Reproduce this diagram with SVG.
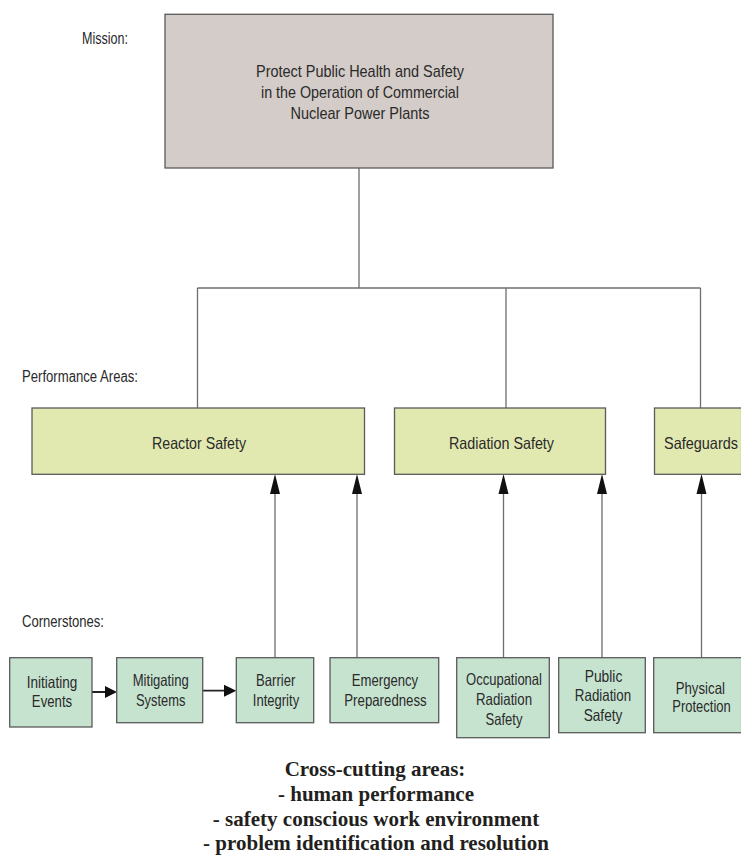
<svg xmlns="http://www.w3.org/2000/svg" width="741" height="855" viewBox="0 0 741 855">
<style>
.lbl{font-family:"Liberation Sans",Arial,sans-serif;font-size:16px;fill:#2a2a2a;}
.t{font-family:"Liberation Sans",Arial,sans-serif;font-size:16.5px;fill:#2a2a2a;text-anchor:middle;}
.m{font-family:"Liberation Sans",Arial,sans-serif;font-size:17px;fill:#2a2a2a;text-anchor:middle;}
.x{font-family:"Liberation Serif","Times New Roman",serif;font-size:21px;font-weight:bold;fill:#231f20;text-anchor:middle;}
.mission{fill:#d4ccc8;stroke:#5a5a5a;stroke-width:1.3;}
.area{fill:#e1e9b1;stroke:#5a5a5a;stroke-width:1.3;}
.corner{fill:#c6e3d0;stroke:#5a5a5a;stroke-width:1.3;}
.ln{fill:none;stroke:#6e6e6e;stroke-width:1.3;}
.ah{fill:#111;stroke:none;}
</style>
<rect width="741" height="855" fill="#ffffff"/>

<text class="lbl" x="82" y="44" textLength="46" lengthAdjust="spacingAndGlyphs">Mission:</text>
<text class="lbl" x="22" y="382" textLength="116" lengthAdjust="spacingAndGlyphs">Performance Areas:</text>
<text class="lbl" x="22" y="627" textLength="82" lengthAdjust="spacingAndGlyphs">Cornerstones:</text>

<g id="connectors">
  <path class="ln" d="M359,168 V288 M197.5,288 H700.5 M197.5,288 V408 M506,288 V408 M700.5,288 V408"/>
  <path class="ln" d="M275,494 V658 M357,494 V658 M503.5,494 V658 M602,494 V658 M701.5,494 V658"/>
  <polygon class="ah" points="275,474 270,494 280,494"/>
  <polygon class="ah" points="357,474 352,494 362,494"/>
  <polygon class="ah" points="503.5,474 498.5,494 508.5,494"/>
  <polygon class="ah" points="602,474 597,494 607,494"/>
  <polygon class="ah" points="701.5,474 696.5,494 706.5,494"/>
  <path d="M92,692 H106 M202.7,690.7 H225" stroke="#222" stroke-width="1.8" fill="none"/>
  <polygon class="ah" points="117,692 105,686 105,698"/>
  <polygon class="ah" points="236.3,690.7 224,684.7 224,696.7"/>
</g>

<g id="mission">
  <rect class="mission" x="165" y="14.3" width="388" height="153.7"/>
  <text class="m" x="360" y="77" textLength="208" lengthAdjust="spacingAndGlyphs">Protect Public Health and Safety</text>
  <text class="m" x="360" y="98" textLength="198" lengthAdjust="spacingAndGlyphs">in the Operation of Commercial</text>
  <text class="m" x="360" y="119" textLength="139" lengthAdjust="spacingAndGlyphs">Nuclear Power Plants</text>
</g>

<g id="reactor-safety">
  <rect class="area" x="32" y="408" width="332.5" height="66.3"/>
  <text class="t" x="199" y="449" textLength="94" lengthAdjust="spacingAndGlyphs">Reactor Safety</text>
</g>
<g id="radiation-safety">
  <rect class="area" x="394.5" y="408" width="211" height="66.3"/>
  <text class="t" x="501.5" y="449" textLength="105" lengthAdjust="spacingAndGlyphs">Radiation Safety</text>
</g>
<g id="safeguards">
  <rect class="area" x="654.5" y="408" width="87.1" height="66.3"/>
  <text class="t" x="701" y="449" textLength="74" lengthAdjust="spacingAndGlyphs">Safeguards</text>
</g>

<g id="initiating-events">
  <rect class="corner" x="9.7" y="657.7" width="82.3" height="69.3"/>
  <text class="t" x="52" y="688" textLength="50.5" lengthAdjust="spacingAndGlyphs">Initiating</text>
  <text class="t" x="52" y="707" textLength="40.3" lengthAdjust="spacingAndGlyphs">Events</text>
</g>
<g id="mitigating-systems">
  <rect class="corner" x="116.7" y="657.7" width="86" height="65"/>
  <text class="t" x="160.7" y="686" textLength="56" lengthAdjust="spacingAndGlyphs">Mitigating</text>
  <text class="t" x="160.7" y="706" textLength="49.3" lengthAdjust="spacingAndGlyphs">Systems</text>
</g>
<g id="barrier-integrity">
  <rect class="corner" x="236.3" y="657.7" width="77.4" height="65"/>
  <text class="t" x="275.7" y="686" textLength="39.3" lengthAdjust="spacingAndGlyphs">Barrier</text>
  <text class="t" x="276" y="706" textLength="46.3" lengthAdjust="spacingAndGlyphs">Integrity</text>
</g>
<g id="emergency-preparedness">
  <rect class="corner" x="330" y="657.7" width="108.7" height="65"/>
  <text class="t" x="385" y="686" textLength="66.3" lengthAdjust="spacingAndGlyphs">Emergency</text>
  <text class="t" x="385.5" y="706" textLength="82.4" lengthAdjust="spacingAndGlyphs">Preparedness</text>
</g>
<g id="occupational-radiation-safety">
  <rect class="corner" x="456.7" y="657.7" width="92.6" height="80"/>
  <text class="t" x="504" y="685" textLength="76" lengthAdjust="spacingAndGlyphs">Occupational</text>
  <text class="t" x="504" y="705" textLength="56" lengthAdjust="spacingAndGlyphs">Radiation</text>
  <text class="t" x="504" y="725" textLength="37" lengthAdjust="spacingAndGlyphs">Safety</text>
</g>
<g id="public-radiation-safety">
  <rect class="corner" x="558.7" y="657.7" width="86.6" height="75"/>
  <text class="t" x="603.5" y="682" textLength="37.6" lengthAdjust="spacingAndGlyphs">Public</text>
  <text class="t" x="603" y="701" textLength="56.3" lengthAdjust="spacingAndGlyphs">Radiation</text>
  <text class="t" x="603" y="721" textLength="38.7" lengthAdjust="spacingAndGlyphs">Safety</text>
</g>
<g id="physical-protection">
  <rect class="corner" x="653.7" y="657.7" width="87.9" height="75"/>
  <text class="t" x="700.3" y="694" textLength="49.3" lengthAdjust="spacingAndGlyphs">Physical</text>
  <text class="t" x="701.5" y="712" textLength="58.4" lengthAdjust="spacingAndGlyphs">Protection</text>
</g>

<g id="cross-cutting">
  <text class="x" x="375" y="776">Cross-cutting areas:</text>
  <text class="x" x="376" y="801">- human performance</text>
  <text class="x" x="376" y="826">- safety conscious work environment</text>
  <text class="x" x="376" y="850">- problem identification and resolution</text>
</g>
</svg>
